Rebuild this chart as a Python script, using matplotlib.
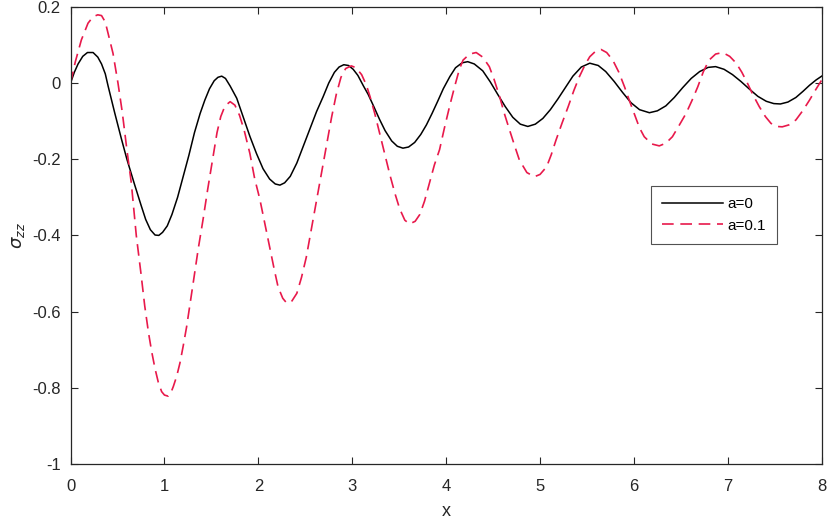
import numpy as np
import matplotlib.pyplot as plt
from matplotlib.ticker import FuncFormatter

plt.rcParams['font.family'] = ['Liberation Sans', 'DejaVu Sans']
plt.rcParams['axes.unicode_minus'] = False

# a = 0
x_a0 = [0.0, 0.04, 0.08, 0.13, 0.18, 0.24, 0.29, 0.33, 0.37, 0.40, 0.47, 0.54, 0.60,
        0.68, 0.75, 0.80, 0.85, 0.90, 0.94, 0.98, 1.03, 1.08, 1.14, 1.20, 1.26, 1.32,
        1.38, 1.43, 1.48, 1.53, 1.57, 1.61, 1.65, 1.70, 1.77, 1.84, 1.91, 1.98, 2.05,
        2.12, 2.18, 2.23, 2.28, 2.34, 2.41, 2.48, 2.55, 2.62, 2.69, 2.75, 2.81, 2.86,
        2.91, 2.96, 3.01, 3.06, 3.12, 3.17, 3.23, 3.29, 3.35, 3.42, 3.48, 3.54, 3.60,
        3.665, 3.73, 3.79, 3.85, 3.91, 3.97, 4.04, 4.10, 4.17, 4.23, 4.30, 4.39, 4.47,
        4.55, 4.63, 4.71, 4.79, 4.87, 4.95, 5.03, 5.11, 5.19, 5.27, 5.35, 5.44, 5.53,
        5.62, 5.70, 5.79, 5.88, 5.97, 6.06, 6.165, 6.25, 6.34, 6.43, 6.52, 6.61, 6.70,
        6.79, 6.87, 6.96, 7.05, 7.14, 7.23, 7.32, 7.41, 7.49, 7.56, 7.64, 7.725, 7.80,
        7.87, 7.94, 8.0]
y_a0 = [0.0, 0.028, 0.050, 0.070, 0.080, 0.080, 0.068, 0.050, 0.024, -0.008, -0.078,
        -0.145, -0.200, -0.265, -0.320, -0.358, -0.385, -0.399, -0.400, -0.392, -0.375,
        -0.345, -0.300, -0.245, -0.190, -0.130, -0.080, -0.045, -0.015, 0.006, 0.015,
        0.018, 0.012, -0.008, -0.040, -0.090, -0.140, -0.185, -0.225, -0.252, -0.265,
        -0.268, -0.262, -0.245, -0.210, -0.165, -0.120, -0.075, -0.036, 0.000, 0.028,
        0.042, 0.048, 0.046, 0.036, 0.020, -0.008, -0.030, -0.062, -0.095, -0.125,
        -0.152, -0.166, -0.171, -0.168, -0.156, -0.135, -0.110, -0.080, -0.048, -0.015,
        0.017, 0.040, 0.053, 0.056, 0.050, 0.032, 0.003, -0.030, -0.062, -0.090,
        -0.108, -0.114, -0.108, -0.093, -0.070, -0.042, -0.012, 0.018, 0.042, 0.052,
        0.046, 0.030, 0.004, -0.025, -0.052, -0.070, -0.078, -0.073, -0.060, -0.038,
        -0.012, 0.012, 0.030, 0.041, 0.043, 0.036, 0.022, 0.004, -0.016, -0.035,
        -0.048, -0.054, -0.055, -0.050, -0.038, -0.022, -0.006, 0.008, 0.018]

# a = 0.1
x_a1 = [0.0, 0.05, 0.115, 0.186, 0.24, 0.29, 0.33, 0.37, 0.40, 0.452, 0.505, 0.55,
        0.60, 0.647, 0.70, 0.75, 0.79, 0.83, 0.864, 0.90, 0.934, 0.97, 1.0, 1.04,
        1.065, 1.094, 1.13, 1.165, 1.20, 1.236, 1.27, 1.306, 1.36, 1.41, 1.46, 1.52,
        1.56, 1.60, 1.645, 1.70, 1.75, 1.80, 1.85, 1.91, 1.96, 2.016, 2.07, 2.12,
        2.17, 2.21, 2.26, 2.30, 2.35, 2.41, 2.46, 2.51, 2.56, 2.62, 2.67, 2.725,
        2.78, 2.83, 2.88, 2.93, 2.99, 3.04, 3.10, 3.15, 3.19, 3.24, 3.29, 3.35, 3.40,
        3.455, 3.505, 3.56, 3.61, 3.67, 3.72, 3.77, 3.82, 3.875, 3.93, 3.98, 4.04,
        4.09, 4.14, 4.18, 4.25, 4.32, 4.39, 4.46, 4.51, 4.57, 4.62, 4.675, 4.73, 4.78,
        4.86, 4.94, 5.00, 5.07, 5.12, 5.17, 5.235, 5.30, 5.36, 5.42, 5.48, 5.53, 5.59,
        5.65, 5.71, 5.775, 5.84, 5.90, 5.95, 6.01, 6.06, 6.11, 6.19, 6.27, 6.34, 6.41,
        6.48, 6.555, 6.62, 6.68, 6.74, 6.80, 6.87, 6.945, 7.02, 7.09, 7.15, 7.21,
        7.27, 7.335, 7.40, 7.46, 7.52, 7.58, 7.65, 7.725, 7.80, 7.87, 7.93, 8.0]
y_a1 = [0.0, 0.055, 0.113, 0.157, 0.174, 0.179, 0.177, 0.160, 0.130, 0.078, 0.0,
        -0.075, -0.175, -0.262, -0.400, -0.500, -0.585, -0.655, -0.705, -0.750, -0.785,
        -0.810, -0.819, -0.822, -0.815, -0.797, -0.770, -0.735, -0.690, -0.640, -0.585,
        -0.525, -0.435, -0.360, -0.280, -0.190, -0.130, -0.088, -0.060, -0.049, -0.058,
        -0.085, -0.125, -0.185, -0.250, -0.305, -0.370, -0.430, -0.490, -0.535, -0.565,
        -0.577, -0.575, -0.552, -0.510, -0.458, -0.390, -0.310, -0.240, -0.167, -0.090,
        -0.030, 0.015, 0.038, 0.045, 0.040, 0.022, -0.005, -0.036, -0.080, -0.130,
        -0.190, -0.240, -0.290, -0.330, -0.360, -0.370, -0.363, -0.345, -0.310, -0.265,
        -0.215, -0.175, -0.120, -0.058, -0.010, 0.035, 0.060, 0.076, 0.080, 0.068,
        0.043, 0.010, -0.036, -0.080, -0.123, -0.165, -0.202, -0.235, -0.246, -0.240,
        -0.220, -0.188, -0.150, -0.105, -0.062, -0.020, 0.017, 0.048, 0.069, 0.083,
        0.088, 0.080, 0.060, 0.028, -0.010, -0.045, -0.085, -0.118, -0.141, -0.160,
        -0.165, -0.158, -0.141, -0.112, -0.080, -0.045, -0.010, 0.030, 0.060, 0.076,
        0.080, 0.070, 0.052, 0.028, -0.001, -0.032, -0.062, -0.088, -0.106, -0.114,
        -0.115, -0.110, -0.097, -0.072, -0.045, -0.020, 0.008]

xticks = [0, 1, 2, 3, 4, 5, 6, 7, 8]
yticks = [-1, -0.8, -0.6, -0.4, -0.2, 0, 0.2]

fig = plt.figure(figsize=(8.3, 5.24), dpi=100)
ax = fig.add_axes([0.085, 0.1145, 0.905, 0.8725])

ax.plot(x_a0, y_a0, color='black', lw=1.1, label='a=0')
ax.plot(x_a1, y_a1, color='#e8194b', lw=1.2, ls=(0, (7, 4)), label='a=0.1')

ax.set_xlim(0, 8)
ax.set_ylim(-1, 0.2)
ax.set_xticks(xticks)
ax.set_yticks(yticks)
ax.yaxis.set_major_formatter(FuncFormatter(lambda v, p: '%g' % round(v, 2)))
ax.tick_params(direction='in', top=True, right=True, length=5, width=0.8,
               labelsize=12, colors='#262626')
ax.tick_params(axis='x', pad=11)
ax.tick_params(axis='y', pad=7)
for s in ax.spines.values():
    s.set_color('#262626')
    s.set_linewidth(0.9)

ax.set_xlabel('x', fontsize=13, color='#262626', labelpad=6)
ax.set_ylabel(r'$\sigma_{zz}$', fontsize=13, color='#262626', labelpad=4)

leg = ax.legend(loc='upper left', bbox_to_anchor=(0.773, 0.607), fontsize=11,
                frameon=True, fancybox=False, handlelength=4.0, borderpad=0.7,
                labelspacing=0.5, handletextpad=0.3, borderaxespad=0)
leg.get_frame().set_edgecolor('#262626')
leg.get_frame().set_linewidth(0.8)

fig.savefig('out.png', dpi=100)
